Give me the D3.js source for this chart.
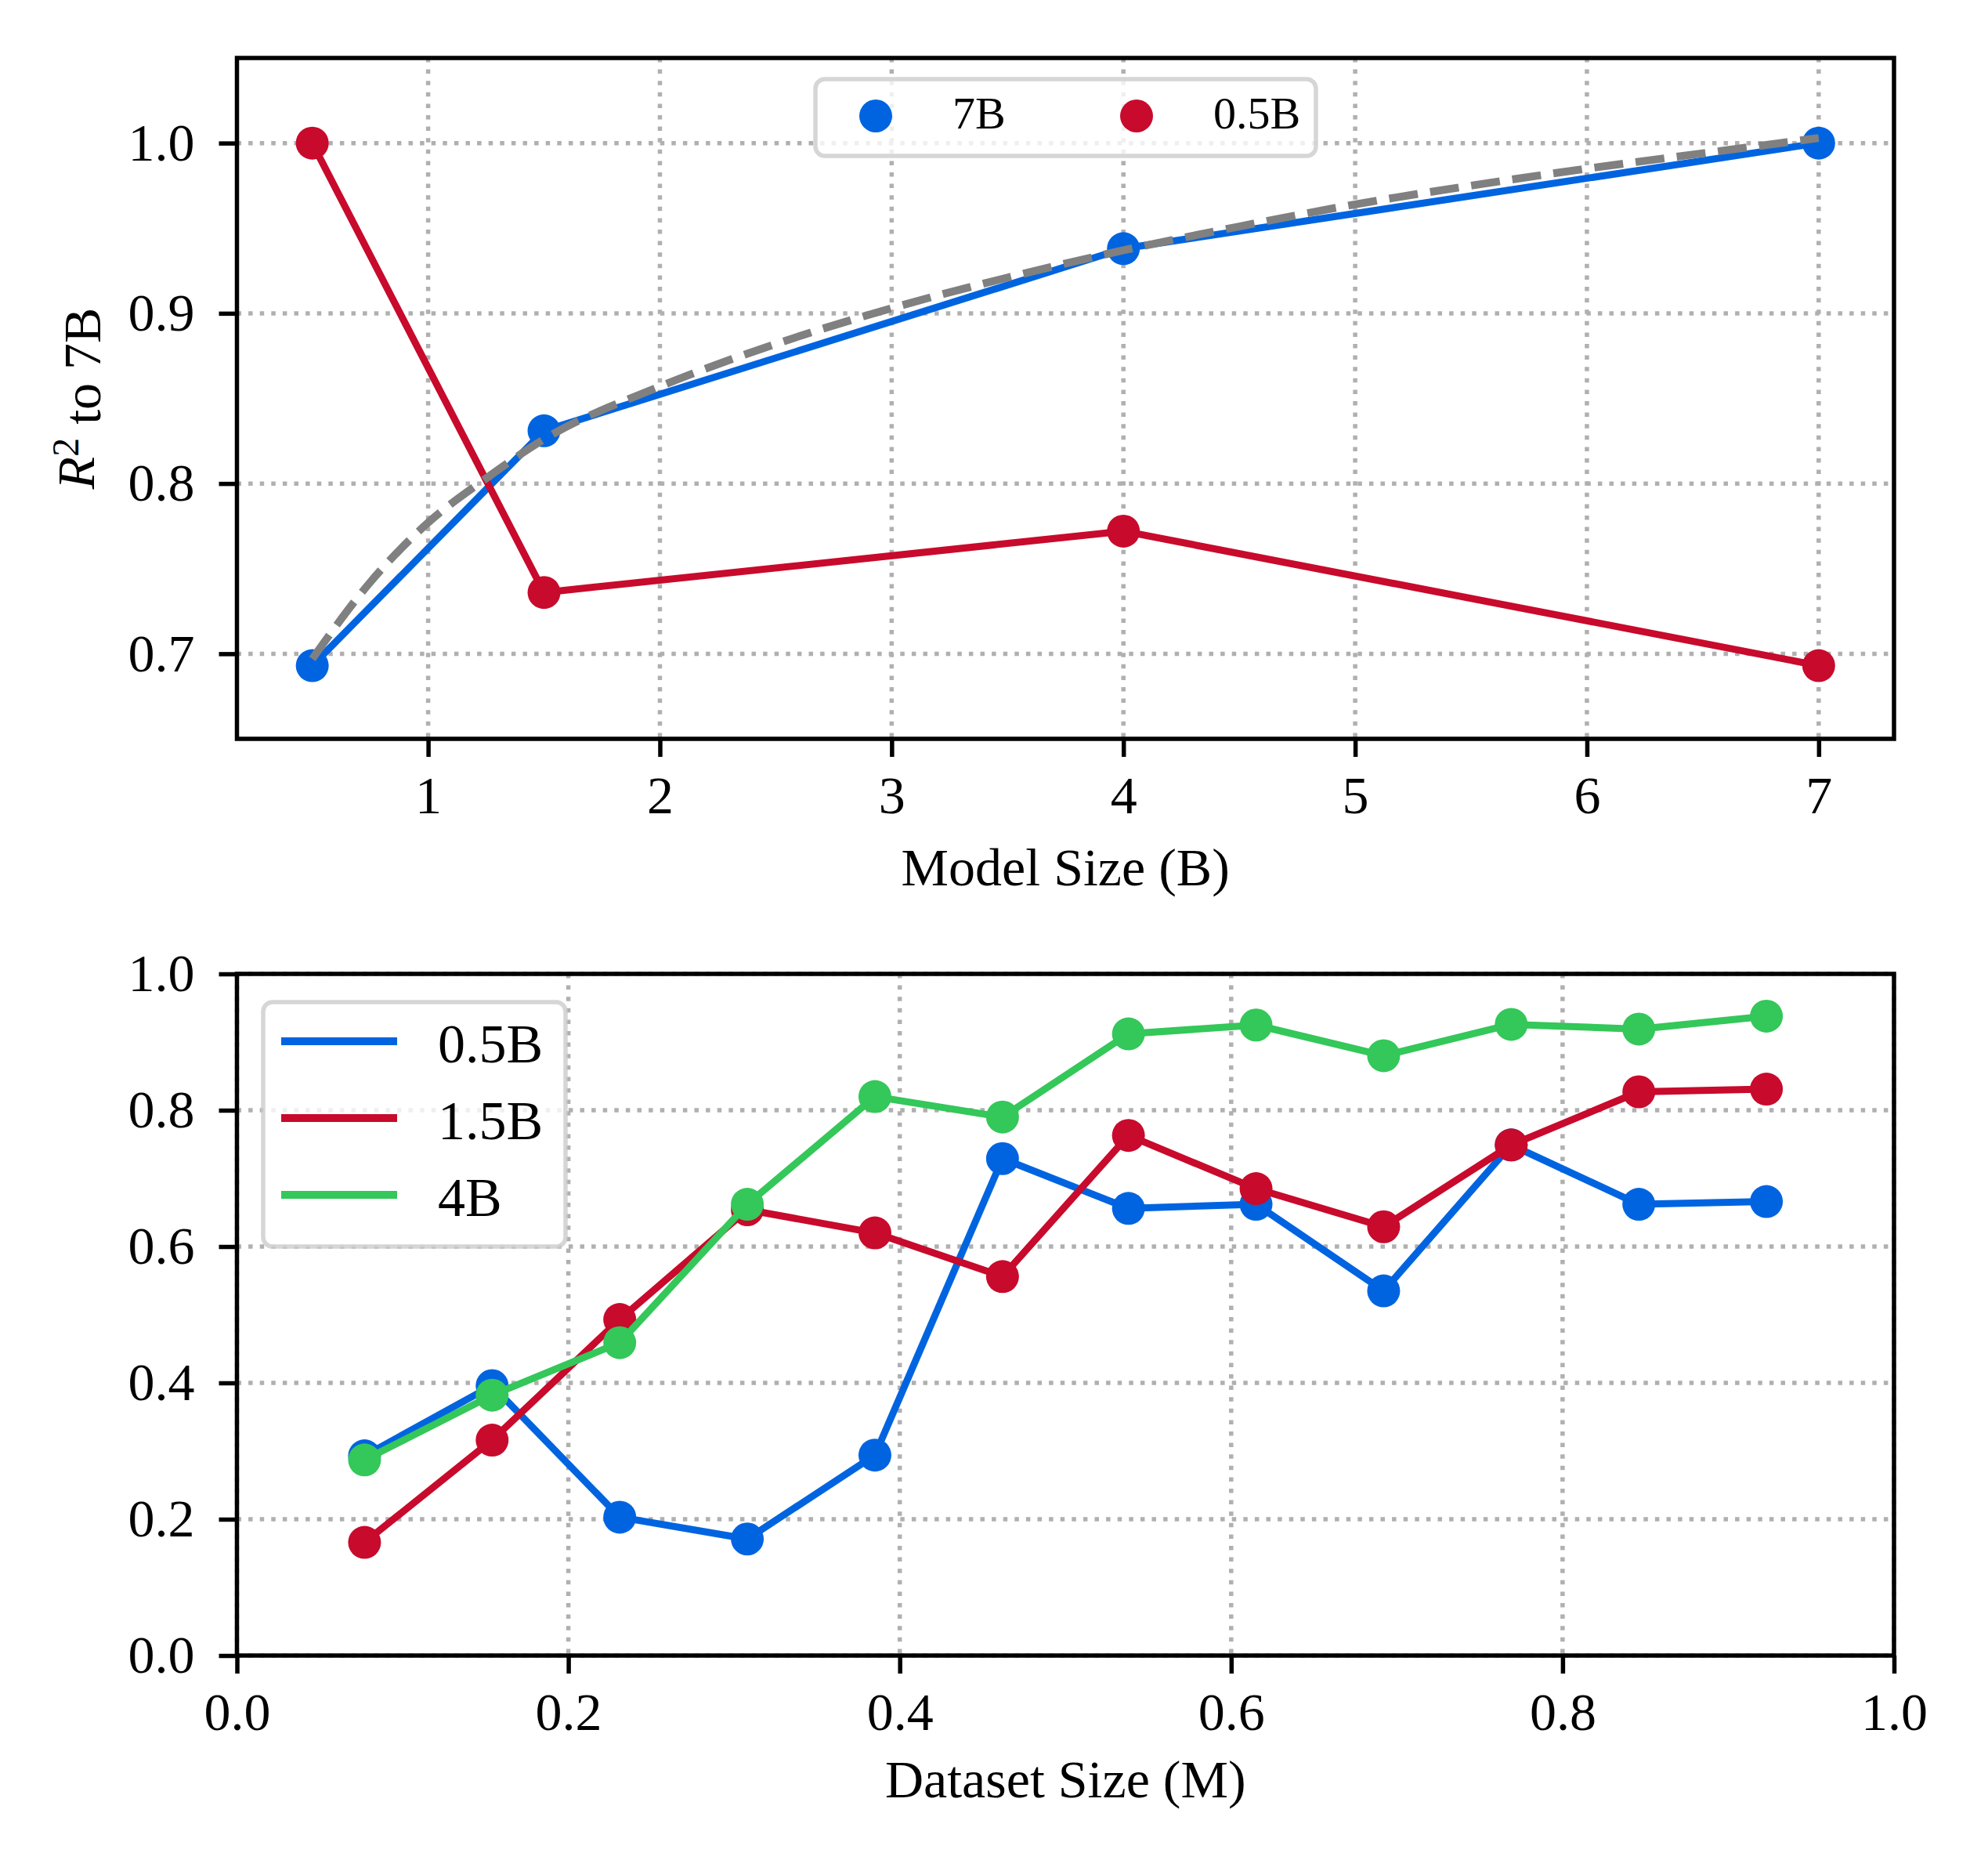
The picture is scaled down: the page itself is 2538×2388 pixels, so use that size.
<!DOCTYPE html>
<html>
<head>
<meta charset="utf-8">
<script src="https://cdn.jsdelivr.net/npm/d3@7"></script>
<style>
  html, body { margin: 0; padding: 0; background: #ffffff; }
  svg { display: block; }
</style>
</head>
<body>
<script>
// ---------- Data ----------
const modelSizes = [0.5, 1.5, 4, 7];
const r2To7B  = [0.693, 0.831, 0.938, 1.000];
const r2To05B = [1.000, 0.736, 0.772, 0.693];
const fitX = [0.5, 0.75, 1, 1.25, 1.5, 2, 2.5, 3, 3.5, 4, 4.5, 5, 5.5, 6, 6.5, 7];
const fitY = [0.697, 0.742, 0.777, 0.803, 0.826, 0.857, 0.882, 0.903, 0.921, 0.937, 0.951, 0.964, 0.975, 0.985, 0.994, 1.003];
const topXTicks = [1, 2, 3, 4, 5, 6, 7];
const topYTicks = [0.7, 0.8, 0.9, 1.0];
const topLegend = ["7B", "0.5B"];

const datasetSizes = [0.077, 0.154, 0.231, 0.308, 0.385, 0.462, 0.538, 0.615, 0.692, 0.769, 0.846, 0.923];
const s05B = [0.293, 0.396, 0.203, 0.171, 0.294, 0.729, 0.656, 0.662, 0.535, 0.749, 0.662, 0.666];
const s15B = [0.166, 0.316, 0.493, 0.654, 0.620, 0.556, 0.763, 0.685, 0.629, 0.749, 0.827, 0.831];
const s4B  = [0.287, 0.382, 0.459, 0.662, 0.820, 0.790, 0.912, 0.925, 0.880, 0.926, 0.919, 0.938];
const bottomSeriesNames = ["0.5B", "1.5B", "4B"];
const botXTicks = [0.0, 0.2, 0.4, 0.6, 0.8, 1.0];
const botYTicks = [0.0, 0.2, 0.4, 0.6, 0.8, 1.0];

// ---------- Style ----------
const BLUE = "#0064E0", RED = "#C80A2C", GREEN = "#34C759", GRAY = "#808080";
const FONT = "'Liberation Serif', 'Times New Roman', serif";
const W = 2538, H = 2388;
const L = 302.5, R = 2418;
const TOP = {t: 74, b: 943}, BOT = {t: 1243, b: 2113};
const LW = 9, MR = 21, SPINE = 5.5, TICK = 23;

const svg = d3.select("body").append("svg")
  .attr("width", W).attr("height", H).attr("viewBox", `0 0 ${W} ${H}`);
svg.append("rect").attr("width", W).attr("height", H).attr("fill", "#fff");

function drawAxes(g, x, y, xt, yt, xfmt, yfmt, box) {
  // grid
  const grid = g.append("g");
  grid.selectAll("line.v").data(xt).join("line")
    .attr("x1", d => x(d)).attr("x2", d => x(d))
    .attr("y1", box.t).attr("y2", box.b)
    .attr("stroke", "#b0b0b0").attr("stroke-width", 5.5).attr("stroke-dasharray", "5.5,9.1");
  grid.selectAll("line.h").data(yt).join("line")
    .attr("y1", d => y(d)).attr("y2", d => y(d))
    .attr("x1", L).attr("x2", R)
    .attr("stroke", "#b0b0b0").attr("stroke-width", 5.5).attr("stroke-dasharray", "5.5,9.1");

  const ax = g.append("g").attr("transform", `translate(0,${box.b})`)
    .call(d3.axisBottom(x).tickValues(xt).tickFormat(xfmt).tickSize(TICK).tickSizeOuter(0).tickPadding(24));
  const ay = g.append("g").attr("transform", `translate(${L},0)`)
    .call(d3.axisLeft(y).tickValues(yt).tickFormat(yfmt).tickSize(TICK).tickSizeOuter(0).tickPadding(31));
  [ax, ay].forEach(a => {
    a.select(".domain").remove();
    a.selectAll(".tick line").attr("stroke", "#000").attr("stroke-width", SPINE);
    a.selectAll(".tick text").attr("fill", "#000").style("font-family", FONT).style("font-size", "68px");
  });
}

function drawSpines(g, box) {
  g.append("rect").attr("x", L).attr("y", box.t).attr("width", R - L).attr("height", box.b - box.t)
    .attr("fill", "none").attr("stroke", "#000").attr("stroke-width", SPINE);
}

function series(g, x, y, xs, ys, color) {
  const pts = xs.map((d, i) => [d, ys[i]]);
  g.append("path").datum(pts)
    .attr("d", d3.line().x(d => x(d[0])).y(d => y(d[1])))
    .attr("fill", "none").attr("stroke", color).attr("stroke-width", LW)
    .attr("stroke-linejoin", "round").attr("stroke-linecap", "butt");
  g.selectAll(null).data(pts).join("circle")
    .attr("cx", d => x(d[0])).attr("cy", d => y(d[1])).attr("r", MR).attr("fill", color);
}

// ---------- Top panel ----------
const x1 = d3.scaleLinear().domain([0.175, 7.325]).range([L, R]);
const y1 = d3.scaleLinear().domain([0.65, 1.05]).range([TOP.b, TOP.t]);
const gTop = svg.append("g");
drawAxes(gTop, x1, y1, topXTicks, topYTicks, d3.format("d"), d3.format(".1f"), TOP);
series(gTop, x1, y1, modelSizes, r2To7B, BLUE);
series(gTop, x1, y1, modelSizes, r2To05B, RED);
gTop.append("path").datum(fitX.map((d, i) => [d, fitY[i]]))
  .attr("d", d3.line().curve(d3.curveMonotoneX).x(d => x1(d[0])).y(d => y1(d[1])))
  .attr("fill", "none").attr("stroke", GRAY).attr("stroke-width", 10)
  .attr("stroke-dasharray", "37,16");
drawSpines(gTop, TOP);

// top legend
const lg1 = gTop.append("g");
lg1.append("rect").attr("x", 1041).attr("y", 101).attr("width", 639).attr("height", 98)
  .attr("rx", 12).attr("ry", 12)
  .attr("fill", "rgba(255,255,255,0.8)").attr("stroke", "rgba(204,204,204,0.8)").attr("stroke-width", 5.5);
const lg1Colors = [BLUE, RED];
topLegend.forEach((name, i) => {
  const cx = 1118 + i * 333;
  lg1.append("circle").attr("cx", cx).attr("cy", 148).attr("r", MR).attr("fill", lg1Colors[i]);
  lg1.append("text").attr("x", cx + 98).attr("y", 164).text(name)
    .style("font-family", FONT).style("font-size", "58px").attr("fill", "#000");
});

// top labels
svg.append("text").attr("x", (L + R) / 2).attr("y", 1130).attr("text-anchor", "middle")
  .style("font-family", FONT).style("font-size", "68px").text("Model Size (B)");
const yl = svg.append("text").attr("transform", `translate(120,${(TOP.t + TOP.b) / 2}) rotate(-90)`)
  .attr("text-anchor", "middle").style("font-family", FONT).style("font-size", "68px");
yl.append("tspan").style("font-style", "italic").text("R");
yl.append("tspan").attr("dy", "-0.42em").style("font-size", "48px").text("2");
yl.append("tspan").attr("dy", "0.42em").text(" to 7B");

// ---------- Bottom panel ----------
const x2 = d3.scaleLinear().domain([0, 1]).range([L, R]);
const y2 = d3.scaleLinear().domain([0, 1]).range([BOT.b, BOT.t]);
const gBot = svg.append("g");
drawAxes(gBot, x2, y2, botXTicks, botYTicks, d3.format(".1f"), d3.format(".1f"), BOT);
const botSeries = [s05B, s15B, s4B];
const botColors = [BLUE, RED, GREEN];
botSeries.forEach((s, i) => series(gBot, x2, y2, datasetSizes, s, botColors[i]));
drawSpines(gBot, BOT);

// bottom legend
const lg2 = gBot.append("g");
lg2.append("rect").attr("x", 336).attr("y", 1279).attr("width", 386).attr("height", 312)
  .attr("rx", 12).attr("ry", 12)
  .attr("fill", "rgba(255,255,255,0.8)").attr("stroke", "rgba(204,204,204,0.8)").attr("stroke-width", 5.5);
bottomSeriesNames.forEach((name, i) => {
  const yy = 1329 + i * 98;
  lg2.append("line").attr("x1", 359).attr("x2", 507).attr("y1", yy).attr("y2", yy)
    .attr("stroke", botColors[i]).attr("stroke-width", 10);
  lg2.append("text").attr("x", 559).attr("y", yy + 27).text(name)
    .style("font-family", FONT).style("font-size", "70px").attr("fill", "#000");
});

svg.append("text").attr("x", (L + R) / 2).attr("y", 2294).attr("text-anchor", "middle")
  .style("font-family", FONT).style("font-size", "68px").text("Dataset Size (M)");
</script>
</body>
</html>
